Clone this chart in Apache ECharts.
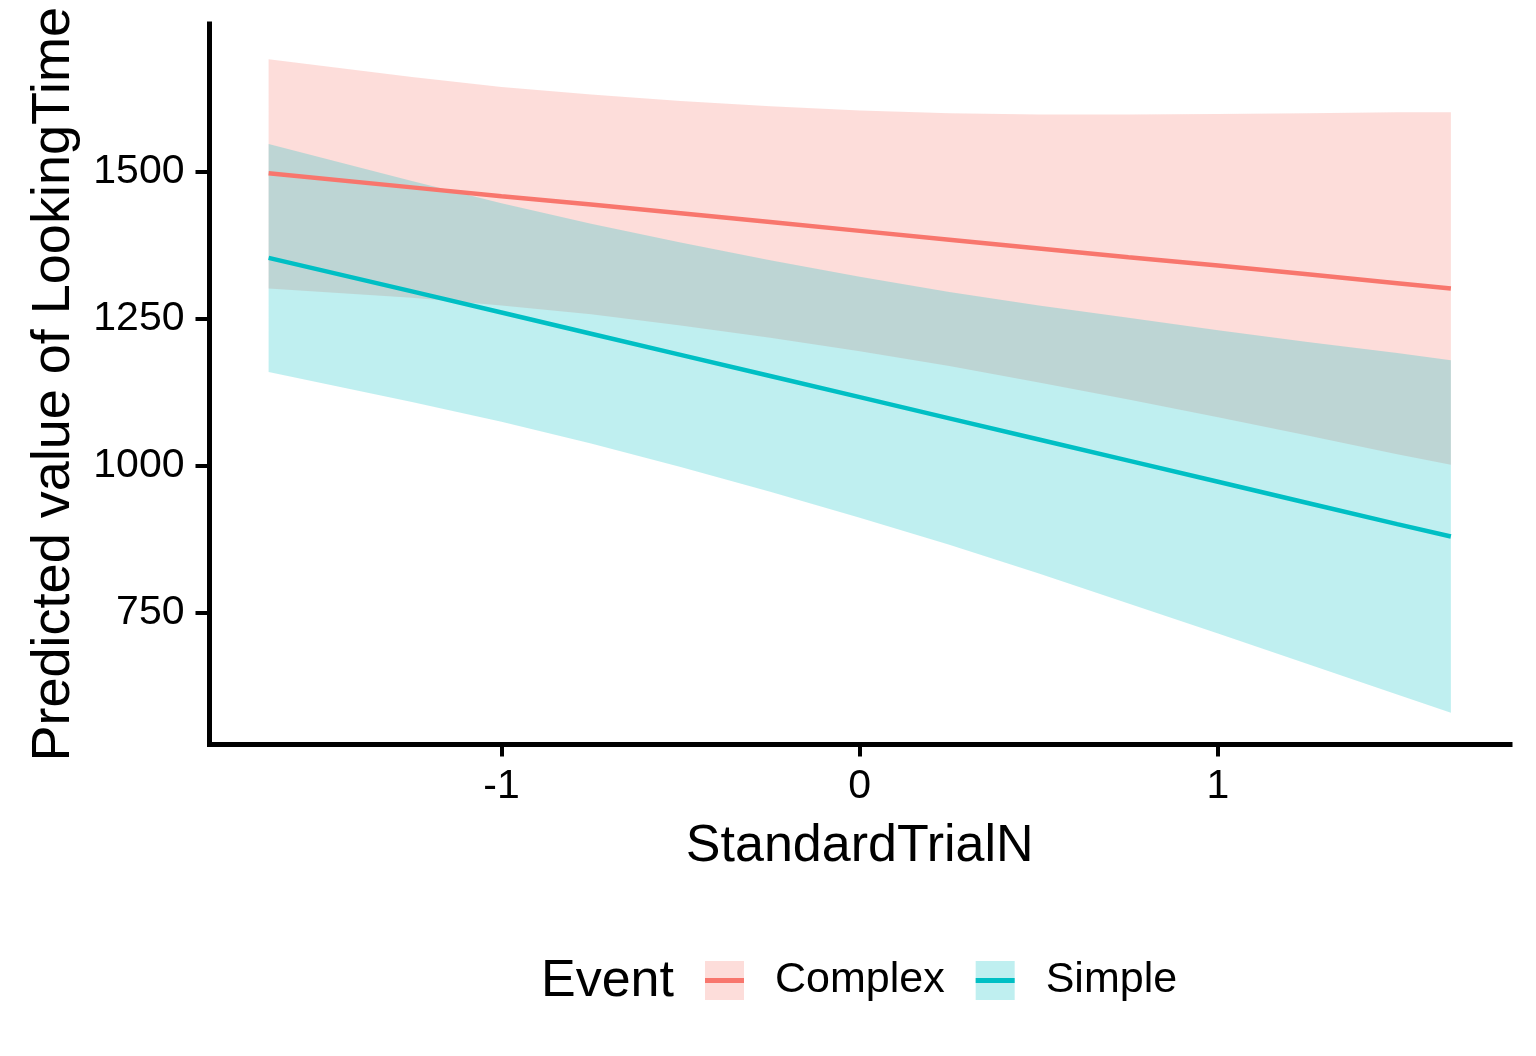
<!DOCTYPE html>
<html><head><meta charset="utf-8">
<script src="https://cdn.jsdelivr.net/npm/echarts@6/dist/echarts.min.js"></script>
<style>html,body{margin:0;padding:0;background:#fff}#c{width:1536px;height:1056px}</style>
</head><body><div id="c"></div>
<script>
// StandardTrialN sample points
const trialN = [-1.65, -1.25, -1, -0.75, -0.5, -0.25, 0, 0.25, 0.5, 0.75, 1, 1.25, 1.5, 1.65];
// Complex event: predicted value and confidence band
const complexFit   = [1497, 1473, 1458, 1444, 1429, 1414, 1399, 1384, 1369, 1354, 1340, 1325, 1310, 1301];
const complexLower = [1301, 1285, 1272, 1257, 1238, 1217, 1194, 1169, 1141, 1112, 1082, 1051, 1019, 1001];
const complexUpper = [1691, 1661, 1644, 1631, 1620, 1611, 1604, 1599, 1597, 1597, 1598, 1599, 1601, 1601];
// Simple event
const simpleFit   = [1353, 1296, 1260, 1224, 1188, 1152, 1116, 1080, 1044, 1008, 972, 936, 900, 879];
const simpleLower = [1159, 1108, 1074, 1037, 997, 955, 911, 865, 816, 765, 714, 662, 610, 579];
const simpleUpper = [1547, 1484, 1446, 1411, 1379, 1349, 1321, 1295, 1272, 1251, 1230, 1210, 1191, 1179];
// Tick labels
const xTicks = [-1, 0, 1];
const yTicks = [750, 1000, 1250, 1500];

const FONT = '"Liberation Sans", Arial, sans-serif';
const RED = '#F8766D', TEAL = '#00BFC4';
const pts = ys => trialN.map((x, i) => [x, ys[i]]);

function bandSeries(name, lower, upper, fill) {
  return {
    type: 'custom', name: name, silent: true, animation: false,
    data: trialN.map((x, i) => [x, lower[i], upper[i]]),
    encode: {x: 0, y: [1, 2]},
    itemStyle: {color: fill},
    renderItem: function (params, api) {
      if (params.dataIndex !== 0) return null;
      const top = [], bot = [];
      for (let i = 0; i < trialN.length; i++) {
        top.push(api.coord([trialN[i], upper[i]]));
        bot.push(api.coord([trialN[i], lower[i]]));
      }
      return {type: 'polygon', shape: {points: top.concat(bot.reverse())},
              style: {fill: fill}};
    }
  };
}

const chart = echarts.init(document.getElementById('c'), null, {renderer: 'canvas'});
const legendText = {fontSize: 43, fontFamily: FONT, color: '#000', padding: [0, 0, 0, 26]};
chart.setOption({
  animation: false,
  backgroundColor: '#fff',
  title: {text: 'Event', left: 541, top: 956, padding: 0,
    textStyle: {fontSize: 52, fontWeight: 'normal', fontFamily: FONT, color: '#000'}},
  legend: [
    {data: [{name: 'Complex', itemStyle: {color: '#FDDDDA', opacity: 1, borderWidth: 0}},
            {name: 'Simple', itemStyle: {color: '#BFEFF0', opacity: 1, borderWidth: 0}}],
     icon: 'rect', itemWidth: 39, itemHeight: 39, itemGap: 31, left: 705, top: 959, padding: 0,
     selectedMode: false, textStyle: legendText},
    {data: [{name: 'Complex line', itemStyle: {color: RED, opacity: 1, borderWidth: 0}},
            {name: 'Simple line', itemStyle: {color: TEAL, opacity: 1, borderWidth: 0}}],
     icon: 'rect', itemWidth: 39, itemHeight: 5, itemGap: 31, left: 705, top: 959, padding: 0,
     selectedMode: false, formatter: n => n.replace(' line', ''),
     textStyle: Object.assign({}, legendText, {color: 'rgba(0,0,0,0)'})}
  ],
  grid: {left: 209.5, right: 26, top: 24, bottom: 311.5, containLabel: false},
  xAxis: {
    type: 'value', min: -1.815, max: 1.815,
    name: 'StandardTrialN', nameLocation: 'middle', nameGap: 76,
    nameTextStyle: {fontSize: 52, fontFamily: FONT, color: '#000'},
    axisLine: {onZero: false, lineStyle: {color: '#000', width: 5, cap: 'square'}},
    axisTick: {customValues: xTicks, length: 12, lineStyle: {color: '#000', width: 4}},
    axisLabel: {customValues: xTicks, fontSize: 41, fontFamily: FONT, color: '#000', margin: 22,
                formatter: v => String(v)},
    splitLine: {show: false}
  },
  yAxis: {
    type: 'value', min: 525, max: 1751,
    name: 'Predicted value of LookingTime', nameLocation: 'middle', nameGap: 128, nameRotate: 90,
    nameTextStyle: {fontSize: 54, fontFamily: FONT, color: '#000'},
    axisLine: {onZero: false, lineStyle: {color: '#000', width: 5, cap: 'square'}},
    axisTick: {customValues: yTicks, length: 14, lineStyle: {color: '#000', width: 4}},
    axisLabel: {customValues: yTicks, fontSize: 41, fontFamily: FONT, color: '#000', margin: 25,
                formatter: v => String(v)},
    splitLine: {show: false}
  },
  series: [
    bandSeries('Complex', complexLower, complexUpper, 'rgba(248,118,109,0.25)'),
    bandSeries('Simple', simpleLower, simpleUpper, 'rgba(0,191,196,0.25)'),
    {type: 'line', name: 'Complex line', symbol: 'none', showSymbol: false, silent: true,
     data: pts(complexFit), lineStyle: {color: RED, width: 4.5}, itemStyle: {color: RED}},
    {type: 'line', name: 'Simple line', symbol: 'none', showSymbol: false, silent: true,
     data: pts(simpleFit), lineStyle: {color: TEAL, width: 4.5}, itemStyle: {color: TEAL}}
  ]
});
</script>
</body></html>
